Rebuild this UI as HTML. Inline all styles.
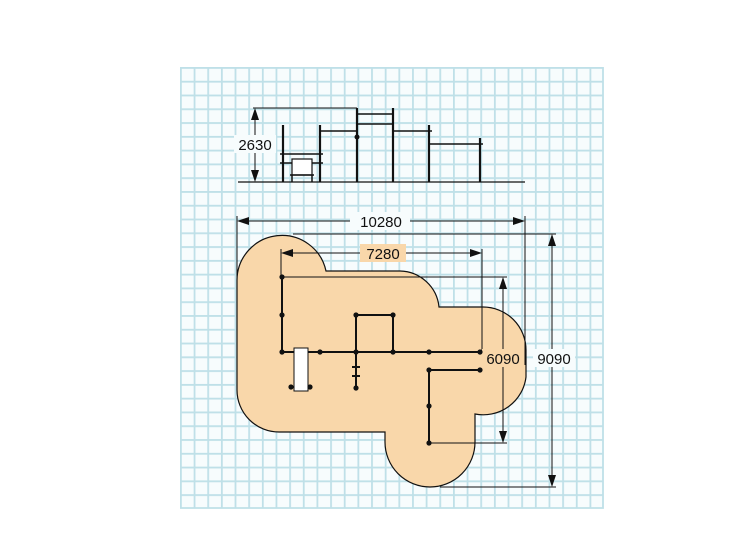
<!DOCTYPE html>
<html><head><meta charset="utf-8"><style>
html,body{margin:0;padding:0;background:#fff;}
svg{display:block;}
text{font-family:"Liberation Sans",sans-serif;font-size:15px;fill:#111;}
</style></head><body>
<svg width="744" height="558" viewBox="0 0 744 558" xmlns="http://www.w3.org/2000/svg">
<defs>
<pattern id="g" x="180" y="67" width="13.65" height="13.78" patternUnits="userSpaceOnUse">
<rect width="13.65" height="13.78" fill="#f7fcfd"/>
<path d="M0.9,0 V13.78 M0,0.9 H13.65" stroke="#bfe0e8" stroke-width="1.8" fill="none"/>
</pattern>
</defs>
<rect x="180" y="67" width="423" height="441" fill="url(#g)"/>
<path d="M603,67 V508 H180" stroke="#bfe0e8" stroke-width="1.8" fill="none"/>

<!-- elevation -->
<g stroke="#111" fill="none">
<line x1="238" y1="182" x2="525" y2="182" stroke-width="1.3"/>
<line x1="253" y1="108" x2="357" y2="108" stroke-width="1"/>
<line x1="255" y1="112" x2="255" y2="178" stroke-width="1"/>
<g stroke-width="2.2">
<line x1="283" y1="125" x2="283" y2="182"/>
<line x1="320" y1="125" x2="320" y2="182"/>
<line x1="357" y1="108" x2="357" y2="182"/>
<line x1="393" y1="108" x2="393" y2="182"/>
<line x1="429" y1="125" x2="429" y2="182"/>
<line x1="480" y1="138" x2="480" y2="182"/>
</g>
<g stroke-width="1.6">
<line x1="280" y1="154" x2="323" y2="154"/>
<line x1="280" y1="163" x2="323" y2="163"/>
<line x1="320" y1="131" x2="357" y2="131"/>
<line x1="357" y1="114" x2="393" y2="114"/>
<line x1="357" y1="124" x2="393" y2="124"/>
<line x1="393" y1="131" x2="432" y2="131"/>
<line x1="429" y1="144" x2="483" y2="144"/>
</g>
<rect x="292" y="159" width="20" height="16" fill="#fff" stroke-width="1.2"/>
<line x1="290" y1="175" x2="314" y2="175" stroke-width="1.5"/>
<line x1="292" y1="175" x2="292" y2="182" stroke-width="1.5"/>
<line x1="312" y1="175" x2="312" y2="182" stroke-width="1.5"/>
</g>
<circle cx="357" cy="137" r="2.5" fill="#111"/>
<polygon points="255,108 251,120 259,120" fill="#111"/>
<polygon points="255,182 251,170 259,170" fill="#111"/>
<rect x="234" y="135" width="42" height="18" fill="#f7fcfd"/>
<text x="255" y="150" text-anchor="middle">2630</text>

<!-- plan shape -->
<path d="M237,280 A45,45 0 0 1 326,271 L400,271 A40,40 0 0 1 439,307 L483,307 A43,43 0 0 1 526,350 L526,377 A43,43 0 0 1 475,414 L475,442 A45,45 0 0 1 385,442 L385,432 L279,432 A42,42 0 0 1 237,390 Z" fill="#f9d7aa" stroke="#111" stroke-width="1.2"/>

<!-- dimensions -->
<g stroke="#111" stroke-width="1" fill="none">
<line x1="237" y1="216" x2="237" y2="285"/>
<line x1="525" y1="216" x2="525" y2="365"/>
<line x1="241" y1="221" x2="521" y2="221"/>
<line x1="293" y1="234" x2="556" y2="234"/>
<line x1="552" y1="238" x2="552" y2="483"/>
<line x1="440" y1="487" x2="556" y2="487"/>
<line x1="281" y1="249" x2="281" y2="278"/>
<line x1="482" y1="249" x2="482" y2="352"/>
<line x1="285" y1="253" x2="478" y2="253"/>
<line x1="282" y1="277" x2="507" y2="277"/>
<line x1="503" y1="281" x2="503" y2="440"/>
<line x1="429" y1="443" x2="507" y2="443"/>
</g>
<g fill="#111">
<polygon points="237,221 249,217 249,225"/>
<polygon points="525,221 513,217 513,225"/>
<polygon points="552,234 548,246 556,246"/>
<polygon points="552,487 548,475 556,475"/>
<polygon points="281,253 293,249 293,257"/>
<polygon points="482,253 470,249 470,257"/>
<polygon points="503,277 499,289 507,289"/>
<polygon points="503,443 499,431 507,431"/>
</g>
<rect x="350" y="212" width="60" height="18" fill="#f7fcfd"/>
<text x="381" y="227" text-anchor="middle">10280</text>
<rect x="360" y="244" width="46" height="18" fill="#f9d7aa"/>
<text x="383" y="259" text-anchor="middle">7280</text>
<rect x="482" y="349" width="42" height="18" fill="#f9d7aa"/>
<text x="503" y="364" text-anchor="middle">6090</text>
<rect x="533" y="349" width="42" height="18" fill="#f7fcfd"/>
<text x="554" y="364" text-anchor="middle">9090</text>

<!-- plan frame -->
<g stroke="#111" stroke-width="2" fill="none">
<line x1="282" y1="277" x2="282" y2="352"/>
<line x1="282" y1="352" x2="480" y2="352"/>
<path d="M356,352 V315 H393 V352"/>
<line x1="356" y1="352" x2="356" y2="388"/>
<line x1="352" y1="367" x2="360" y2="367"/>
<line x1="352" y1="376" x2="360" y2="376"/>
<path d="M480,370 H429 V443"/>
</g>
<rect x="294" y="348" width="14" height="43" fill="#fff" stroke="#111" stroke-width="1"/>
<g fill="#111">
<circle cx="282" cy="277" r="2.6"/><circle cx="282" cy="315" r="2.6"/><circle cx="282" cy="352" r="2.6"/>
<circle cx="320" cy="352" r="2.6"/><circle cx="356" cy="352" r="2.6"/><circle cx="393" cy="352" r="2.6"/>
<circle cx="429" cy="352" r="2.6"/><circle cx="480" cy="352" r="2.6"/>
<circle cx="356" cy="315" r="2.6"/><circle cx="393" cy="315" r="2.6"/><circle cx="356" cy="388" r="2.6"/>
<circle cx="291" cy="387" r="2.6"/><circle cx="310" cy="387" r="2.6"/>
<circle cx="429" cy="370" r="2.6"/><circle cx="480" cy="370" r="2.6"/><circle cx="429" cy="406" r="2.6"/><circle cx="429" cy="443" r="2.6"/>
</g>
</svg>
</body></html>
